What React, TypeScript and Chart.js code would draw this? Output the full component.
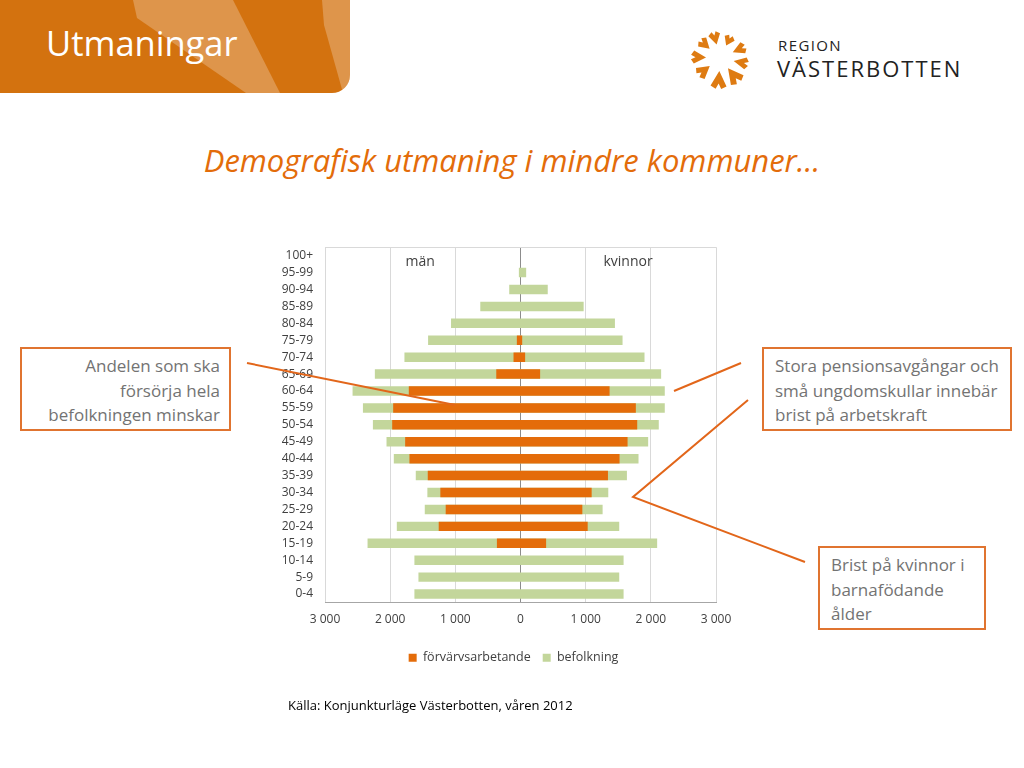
import React, { useEffect, useRef } from "react";
import { Chart, registerables } from "chart.js";

Chart.register(...registerables);

// Age groups, top to bottom
const ageGroups = [
  "100+", "95-99", "90-94", "85-89", "80-84", "75-79", "70-74", "65-69",
  "60-64", "55-59", "50-54", "45-49", "40-44", "35-39", "30-34", "25-29",
  "20-24", "15-19", "10-14", "5-9", "0-4",
];

// Population (befolkning)
const menPopulation = [
  null, 25, 173, 617, 1066, 1418, 1781, 2235, 2577, 2418, 2265, 2056, 1944,
  1607, 1429, 1469, 1898, 2347, 1628, 1566, 1628,
];
const womenPopulation = [
  null, 87, 418, 969, 1449, 1566, 1903, 2158, 2214, 2214, 2122, 1959, 1811,
  1633, 1347, 1260, 1515, 2097, 1582, 1515, 1582,
];

// Employed (förvärvsarbetande)
const menEmployed = [
  null, null, null, null, null, 56, 107, 372, 1714, 1954, 1969, 1770, 1704,
  1423, 1230, 1148, 1255, 362, null, null, null,
];
const womenEmployed = [
  null, null, null, null, null, 26, 71, 301, 1367, 1770, 1791, 1643, 1520,
  1342, 1092, 949, 1031, 393, null, null, null,
];

const seriesNames = ["förvärvsarbetande", "befolkning"];
const sideLabels = ["män", "kvinnor"];
const sideLabelValues = [-1540, 1650];

const ORANGE = "#E46C0A";
const GREEN = "#C3D69B";
const LINE_ORANGE = "#E2661A";
const BOX_ORANGE = "#E07430";
const FONT = "'Open Sans', 'Noto Sans', sans-serif";

function pairs(left: (number | null)[], right: (number | null)[]) {
  return left.map((m, i) => {
    const w = right[i];
    if (m == null && w == null) return null;
    return [-(m ?? 0), w ?? 0] as [number, number];
  });
}

function fmt(v: number) {
  return String(Math.abs(v)).replace(/\B(?=(\d{3})+(?!\d))/g, " ");
}

function Star() {
  const cx = 720;
  const cy = 58;
  const arms = [
    { a: -14, rin: 14, rout: 27, w: 6 },
    { a: 26, rin: 14, rout: 25, w: 5.5 },
    { a: 66, rin: 14, rout: 28, w: 6 },
    { a: 102, rin: 14, rout: 29, w: 6 },
    { a: 142, rin: 13, rout: 31, w: 8 },
    { a: 183, rin: 13, rout: 31, w: 8 },
    { a: 232, rin: 13, rout: 28, w: 7 },
    { a: 272, rin: 14, rout: 29, w: 6.5 },
    { a: 312, rin: 14, rout: 27, w: 6 },
  ];
  return (
    <svg
      width={1024}
      height={120}
      style={{ position: "absolute", left: 0, top: 0 }}
    >
      {arms.map((s, i) => {
        const pts = [
          [0, -s.rin],
          [s.w, -s.rout + 3],
          [s.w * 0.35, -s.rout],
          [0, -s.rout + (s.rout - s.rin) * 0.3],
          [-s.w * 0.35, -s.rout],
          [-s.w, -s.rout + 3],
        ]
          .map((p) => p.join(","))
          .join(" ");
        return (
          <polygon
            key={i}
            points={pts}
            fill="#DE7B12"
            transform={`translate(${cx},${cy}) rotate(${s.a})`}
          />
        );
      })}
    </svg>
  );
}

export default function App() {
  const canvasRef = useRef<HTMLCanvasElement>(null);

  useEffect(() => {
    const canvas = canvasRef.current;
    if (!canvas) return;

    const decor = {
      id: "pyramidDecor",
      beforeDatasetsDraw(chart: any) {
        const { ctx, chartArea } = chart;
        ctx.save();
        ctx.strokeStyle = "#D9D9D9";
        ctx.lineWidth = 1;
        ctx.beginPath();
        ctx.moveTo(chartArea.left, Math.round(chartArea.top) + 0.5);
        ctx.lineTo(chartArea.right, Math.round(chartArea.top) + 0.5);
        ctx.stroke();
        ctx.restore();
      },
      afterDatasetsDraw(chart: any) {
        const { ctx, chartArea, scales } = chart;
        ctx.save();
        ctx.fillStyle = "#404040";
        ctx.font = `14px ${FONT}`;
        ctx.textAlign = "center";
        ctx.textBaseline = "middle";
        sideLabels.forEach((t, i) => {
          ctx.fillText(
            t,
            scales.x.getPixelForValue(sideLabelValues[i]),
            chartArea.top + 15
          );
        });
        ctx.restore();
      },
    };

    const chart = new Chart(canvas, {
      type: "bar",
      data: {
        labels: ageGroups,
        datasets: [
          {
            label: seriesNames[0],
            data: pairs(menEmployed, womenEmployed) as any,
            backgroundColor: ORANGE,
            borderWidth: 0,
            grouped: false,
            barPercentage: 0.56,
            categoryPercentage: 1,
          },
          {
            label: seriesNames[1],
            data: pairs(menPopulation, womenPopulation) as any,
            backgroundColor: GREEN,
            borderWidth: 0,
            grouped: false,
            barPercentage: 0.56,
            categoryPercentage: 1,
          },
        ],
      },
      options: {
        indexAxis: "y",
        animation: false,
        responsive: true,
        maintainAspectRatio: false,
        layout: { padding: { top: 7, left: 0, right: 0, bottom: 0 } },
        plugins: {
          tooltip: { enabled: false },
          legend: {
            position: "bottom",
            labels: {
              boxWidth: 8,
              boxHeight: 8,
              padding: 12,
              color: "#404040",
              font: { family: FONT, size: 12.5 },
            },
          },
        },
        scales: {
          x: {
            type: "linear",
            min: -3000,
            max: 3000,
            ticks: {
              stepSize: 1000,
              color: "#404040",
              font: { family: FONT, size: 12 },
              padding: 10,
              callback: (v: any) => fmt(Number(v)),
            },
            grid: {
              drawTicks: false,
              color: (c: any) =>
                c.tick && c.tick.value === 0 ? "#8C8C8C" : "#D9D9D9",
            },
            border: { display: true, color: "#A6A6A6" },
            afterFit: (s: any) => {
              s.height = 37;
            },
          },
          y: {
            type: "category",
            grid: { display: false, drawTicks: false },
            border: { display: false },
            ticks: {
              color: "#404040",
              font: { family: FONT, size: 12 },
              padding: 12,
              autoSkip: false,
            },
            afterFit: (s: any) => {
              s.width = 55;
            },
          },
          y2: {
            type: "category",
            position: "right",
            grid: { display: false, drawTicks: false },
            border: { display: false },
            ticks: { display: false },
            afterFit: (s: any) => {
              s.width = 41;
            },
          },
        },
      } as any,
      plugins: [decor],
    });

    return () => chart.destroy();
  }, []);

  const calloutText: React.CSSProperties = {
    position: "absolute",
    boxSizing: "border-box",
    border: `2px solid ${BOX_ORANGE}`,
    fontFamily: FONT,
    fontSize: 17,
    lineHeight: "24.5px",
    color: "#737373",
    padding: "5px 9px 0 11px",
    background: "#fff",
    whiteSpace: "nowrap",
  };

  return (
    <div
      style={{
        position: "absolute",
        left: 0,
        top: 0,
        width: 1024,
        height: 768,
        overflow: "hidden",
        background: "#fff",
        fontFamily: FONT,
      }}
    >
      {/* header block */}
      <div
        style={{
          position: "absolute",
          left: 0,
          top: 0,
          width: 350,
          height: 93,
          background: "#D3720F",
          borderBottomRightRadius: 18,
          overflow: "hidden",
        }}
      >
        <svg width={350} height={93} style={{ position: "absolute", left: 0, top: 0 }}>
          <polygon
            points="133,0 233,0 280,93 246,93 137,18"
            fill="rgba(255,255,255,0.25)"
          />
          <polygon
            points="322,0 350,0 350,93 343,93 324,25"
            fill="rgba(255,255,255,0.25)"
          />
        </svg>
        <div
          style={{
            position: "absolute",
            left: 46,
            top: 23,
            color: "#fff",
            fontSize: 34.5,
            lineHeight: "40px",
            fontFamily: FONT,
            whiteSpace: "nowrap",
          }}
        >
          Utmaningar
        </div>
      </div>

      {/* logo */}
      <Star />
      <div
        style={{
          position: "absolute",
          left: 778,
          top: 36,
          fontSize: 15,
          lineHeight: "18px",
          color: "#222",
          fontFamily: FONT,
          letterSpacing: 1.4,
        }}
      >
        REGION
      </div>
      <div
        style={{
          position: "absolute",
          left: 777,
          top: 55,
          fontSize: 22,
          lineHeight: "26px",
          color: "#222",
          fontFamily: FONT,
          letterSpacing: 2,
          whiteSpace: "nowrap",
        }}
      >
        VÄSTERBOTTEN
      </div>

      {/* subtitle */}
      <div
        style={{
          position: "absolute",
          left: 0,
          width: 1024,
          top: 140,
          textAlign: "center",
          fontStyle: "italic",
          fontSize: 31,
          lineHeight: "40px",
          color: "#E36C0A",
          fontFamily: FONT,
          paddingRight: 2,
        }}
      >
        Demografisk utmaning i mindre kommuner…
      </div>

      {/* chart */}
      <div
        style={{
          position: "absolute",
          left: 270,
          top: 228,
          width: 487,
          height: 446,
        }}
      >
        <canvas ref={canvasRef} />
      </div>

      {/* connector lines */}
      <svg
        width={1024}
        height={768}
        style={{ position: "absolute", left: 0, top: 0, pointerEvents: "none" }}
      >
        <g stroke={LINE_ORANGE} strokeWidth={2} fill="none">
          <line x1={247} y1={363} x2={455} y2={405} />
          <line x1={674} y1={391} x2={741} y2={363} />
          <polyline points="748,400 633,497 805,562" />
        </g>
      </svg>

      {/* callouts */}
      <div
        style={{
          ...calloutText,
          left: 20,
          top: 347,
          width: 211,
          height: 84,
          textAlign: "right",
        }}
      >
        Andelen som ska
        <br />
        försörja hela
        <br />
        befolkningen minskar
      </div>
      <div
        style={{
          ...calloutText,
          left: 762,
          top: 347,
          width: 250,
          height: 84,
        }}
      >
        Stora pensionsavgångar och
        <br />
        små ungdomskullar innebär
        <br />
        brist på arbetskraft
      </div>
      <div
        style={{
          ...calloutText,
          left: 818,
          top: 546,
          width: 168,
          height: 84,
        }}
      >
        Brist på kvinnor i
        <br />
        barnafödande
        <br />
        ålder
      </div>

      {/* source */}
      <div
        style={{
          position: "absolute",
          left: 288,
          top: 696,
          fontSize: 13,
          lineHeight: "18px",
          color: "#000",
          fontFamily: FONT,
          whiteSpace: "nowrap",
        }}
      >
        Källa: Konjunkturläge Västerbotten, våren 2012
      </div>
    </div>
  );
}
